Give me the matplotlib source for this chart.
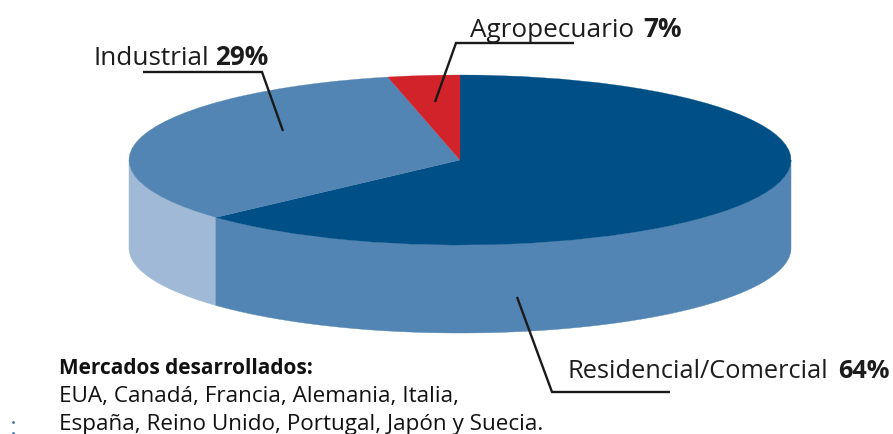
import numpy as np
import matplotlib
matplotlib.use("Agg")
import matplotlib.pyplot as plt
from matplotlib.patches import Wedge, Polygon
from matplotlib.transforms import Affine2D

W, H = 893, 435
# Sector names and printed percentages
categories = ["Residencial/Comercial", "Industrial", "Agropecuario"]
percent_labels = [64, 29, 7]
# Sector shares as drawn on the tilted disc (%)
drawn_shares = [63.2, 33.3, 3.5]
top_colors = ["#004f86", "#5285b3", "#d2232b"]

note_title = "Mercados desarrollados:"
note_lines = ["EUA, Canadá, Francia, Alemania, Italia,",
              "España, Reino Unido, Portugal, Japón y Suecia."]

plt.rcParams["font.family"] = ["Open Sans", "DejaVu Sans"]
fig = plt.figure(figsize=(W / 100, H / 100), dpi=100)
ax = fig.add_axes([0, 0, 1, 1])
ax.set_xlim(0, W)
ax.set_ylim(0, H)
ax.axis("off")

def Y(py):
    return H - py

cx, cy, rx, ry, depth = 460, 161, 331, 85, 88
disc = Affine2D().scale(rx, ry).translate(cx, Y(cy)) + ax.transData

edges = 90 - np.cumsum([0] + drawn_shares) * 3.6
res_end = edges[1]

def wall(a0, a1, color, z):
    t = np.radians(np.linspace(a0, a1, 200))
    x = cx + rx * np.cos(t)
    y = Y(cy) + ry * np.sin(t)
    pts = np.r_[np.c_[x, y], np.c_[x, y - depth][::-1]]
    ax.add_patch(Polygon(pts, closed=True, fc=color, ec=color, lw=0.3, zorder=z))

# Visible side wall: light part under Industrial, mid blue under Residencial
wall(180, 360 + res_end, "#a0b9d6", 1)
wall(360 + res_end, 360, "#5285b3", 1)

for i, c in enumerate(top_colors):
    a_end, a_start = edges[i + 1], edges[i]
    ax.add_patch(Wedge((0, 0), 1, a_end, a_start, fc=c, ec=c, lw=0.2,
                       transform=disc, zorder=2))

# Leader lines
leaders = [
    [(143, 73), (262, 73), (283, 132)],
    [(574, 44), (456, 44), (435, 103)],
    [(517, 298), (552, 393), (670, 393)],
]
for path in leaders:
    xs, ys = zip(*path)
    ax.plot(xs, [Y(v) for v in ys], color="#1a1a1a", lw=1.7, zorder=3,
            solid_joinstyle="miter", solid_capstyle="butt")

positions = [(568, 890, 378, 18.3), (93, 268, 65, 18.8), (470, 682, 37, 18.8)]
for name, pct, (x0, x1, by, fs) in zip(categories, percent_labels, positions):
    lab = dict(fontsize=fs, color="#1c1c1c", va="baseline", zorder=4)
    ax.text(x1, Y(by), f"{pct}%", ha="right", fontweight="bold", **lab)
    ax.text(x0, Y(by), name, ha="left", **lab)

ax.text(59, Y(374), note_title, fontweight="bold", fontsize=15,
        color="#111111", va="baseline", ha="left")
note = dict(fontsize=16.2, color="#111111", va="baseline", ha="left")
ax.text(59, Y(402), note_lines[0], **note)
ax.text(59, Y(430), note_lines[1], **note)

ax.scatter([13, 13], [Y(423), Y(434)], s=4, color="#3f6fa5", lw=0)

fig.savefig("out.png", dpi=100)
